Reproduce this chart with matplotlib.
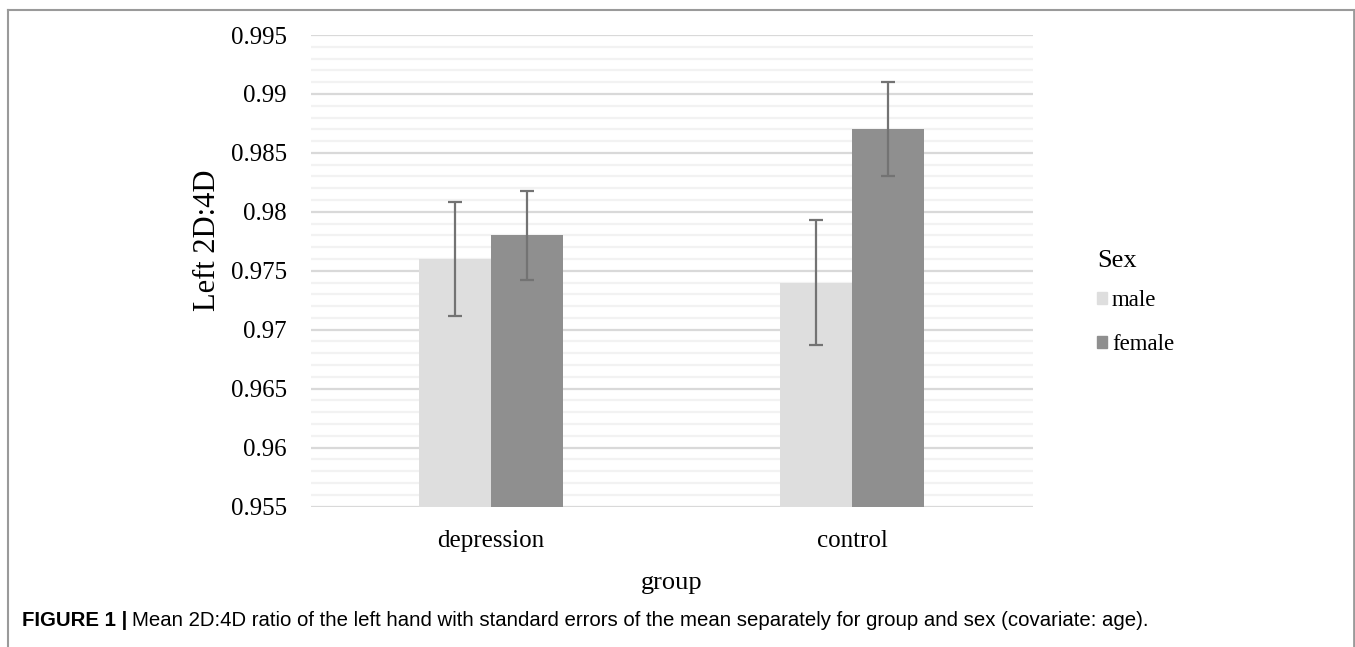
import numpy as np
import matplotlib
matplotlib.use("Agg")
import matplotlib.pyplot as plt
from matplotlib.lines import Line2D
from matplotlib.patches import Patch

groups = ["depression", "control"]
sexes = ["male", "female"]
male_mean = [0.976, 0.974]
female_mean = [0.978, 0.987]
male_se = [0.0048, 0.0053]
female_se = [0.0038, 0.0040]
yticks = [0.955, 0.96, 0.965, 0.97, 0.975, 0.98, 0.985, 0.99, 0.995]
ytick_labels = ["0.955", "0.96", "0.965", "0.97", "0.975", "0.98", "0.985", "0.99", "0.995"]

MALE_C = "#DEDEDE"
FEMALE_C = "#8F8F8F"
ERR_C = "#737373"
SERIF = "Liberation Serif"

W, H = 1355, 647
fig = plt.figure(figsize=(W / 100, H / 100), dpi=100)
ax = fig.add_axes([310.5 / W, 1 - 506.5 / H, 722 / W, 471.5 / H])

x = np.arange(len(groups)) + 0.5
bw = 0.2
ax.bar(x - bw / 2, np.array(male_mean) - 0.955, bw, bottom=0.955, color=MALE_C, zorder=3)
ax.bar(x + bw / 2, np.array(female_mean) - 0.955, bw, bottom=0.955, color=FEMALE_C, zorder=3)
ax.errorbar(x - bw / 2, male_mean, yerr=male_se, fmt="none", ecolor=ERR_C,
            elinewidth=1.6, capsize=4.8, capthick=1.6, zorder=4)
ax.errorbar(x + bw / 2, female_mean, yerr=female_se, fmt="none", ecolor=ERR_C,
            elinewidth=1.6, capsize=4.8, capthick=1.6, zorder=4)

ax.set_xlim(0, 2)
ax.set_ylim(0.955, 0.995)
ax.set_yticks(yticks)
ax.set_yticklabels(ytick_labels, fontfamily=SERIF, fontsize=18)
ax.set_yticks(np.arange(0.956, 0.995, 0.001), minor=True)
ax.set_xticks(x)
ax.set_xticklabels(groups, fontfamily=SERIF, fontsize=18)
ax.tick_params(axis="both", which="both", length=0)
ax.tick_params(axis="y", pad=17)
ax.tick_params(axis="x", pad=17)
ax.grid(axis="y", which="major", color="#D9D9D9", lw=1.6, zorder=0)
ax.grid(axis="y", which="minor", color="#F2F2F2", lw=1.6, zorder=0)
for s in ax.spines.values():
    s.set_visible(False)

ax.set_ylabel("Left 2D:4D", fontfamily=SERIF, fontsize=22, labelpad=6)
ax.yaxis.label.set_y(0.565)
ax.set_xlabel("group", fontfamily=SERIF, fontsize=19, labelpad=14)

handles = [Patch(color=MALE_C), Patch(color=FEMALE_C)]
leg = fig.legend(handles, sexes, title="Sex", loc="upper left",
                 bbox_to_anchor=(1081 / W, 1 - 234 / H), frameon=False,
                 prop={"family": SERIF, "size": 16.5}, handlelength=0.45,
                 handleheight=0.45, handletextpad=0.2, labelspacing=1.0,
                 borderpad=0.2)
leg.get_title().set_fontfamily(SERIF)
leg.get_title().set_fontsize(19)
leg._legend_box.align = "left"
leg._legend_box.sep = 13

# border around the figure panel
bc = "#9A9A9A"
fig.add_artist(Line2D([8 / W, 8 / W], [0, 1 - 10 / H], color=bc, lw=1.5))
fig.add_artist(Line2D([8 / W, 1354 / W], [1 - 10 / H, 1 - 10 / H], color=bc, lw=1.5))
fig.add_artist(Line2D([1353.5 / W, 1353.5 / W], [0, 1 - 10 / H], color=bc, lw=2))

cap_y = 1 - 621 / H
t1 = fig.text(22 / W, cap_y, "FIGURE 1 |", fontfamily="Liberation Sans",
              fontweight="bold", fontsize=14.7, va="center")
fig.canvas.draw()
bb = t1.get_window_extent()
fig.text((bb.x1 + 5) / W, cap_y,
         "Mean 2D:4D ratio of the left hand with standard errors of the mean "
         "separately for group and sex (covariate: age).",
         fontfamily="Liberation Sans", fontsize=14.7, va="center")

fig.savefig("out.png", dpi=100)
